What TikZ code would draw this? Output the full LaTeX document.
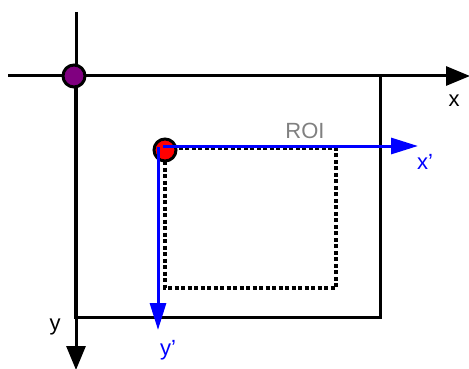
\documentclass[tikz,border=0pt]{standalone}
\usepackage{fontspec}
\setmainfont{Liberation Sans}
\usetikzlibrary{arrows.meta,positioning}
\definecolor{roigray}{RGB}{128,128,128}
\definecolor{dotpurple}{RGB}{128,0,128}

\begin{document}
\begin{tikzpicture}[
    x=1pt, y=-1pt,
    font=\fontsize{22}{26}\selectfont,
    axis/.style={line width=3pt, -{Triangle[length=24pt, width=19pt]}},
    roiaxis/.style={line width=3pt, blue, -{Triangle[length=27pt, width=16pt]}},
    frame/.style={line width=3pt},
    roibox/.style={line width=3.5pt, dash pattern=on 4pt off 2.5pt},
    dot/.style={circle, draw, line width=3pt, minimum size=22pt, inner sep=0pt},
    lbl/.style={inner sep=0pt}
  ]
  \useasboundingbox (0,0) rectangle (469,369);
  % image frame and axes
  \coordinate (o) at (75,76);
  \coordinate (xl) at (8,76);
  \coordinate (xr) at (470,76);
  \coordinate (yt) at (76,12);
  \coordinate (yb) at (76,370);
  \coordinate (br) at (380,317);
  \draw[frame] (o) rectangle (br);
  \draw[axis] (xl) -- (xr);
  \draw[axis] (yt) -- (yb);
  % region of interest
  \coordinate (r1) at (165,148);
  \coordinate (r2) at (336,288);
  \draw[roibox] (r1) rectangle (r2);
  \node[dot, fill=dotpurple] (p0) at (74,76) {};
  \node[dot, fill=red] (p1) at (165,150) {};
  \coordinate (xs) at (163,146);
  \coordinate (xe) at (418,146);
  \coordinate (ys) at (158,147);
  \coordinate (ye) at (158,330);
  \draw[roiaxis] (xs) -- (xe);
  \draw[roiaxis] (ys) -- (ye);
  % labels
  \node[lbl] (lx) at (454,101) {x};
  \node[lbl] (ly) at (55,327) {y};
  \node[lbl, text=roigray] (lroi) at (305,131) {ROI};
  \node[lbl, text=blue] (lxp) at (425,162) {x'};
  \node[lbl, text=blue] (lyp) at (168,350) {y'};
\end{tikzpicture}
\end{document}
